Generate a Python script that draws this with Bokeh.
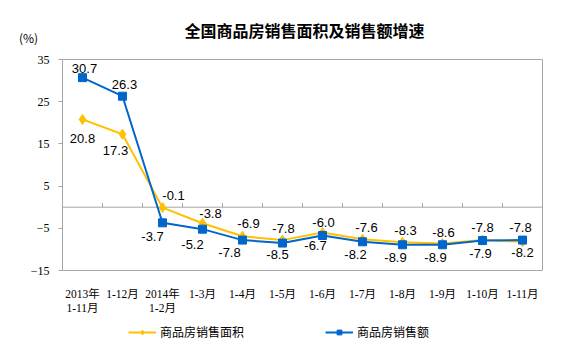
from bokeh.plotting import figure
from bokeh.models import (Range1d, FixedTicker, LinearAxis, Label, Legend,
                          LegendItem, ColumnDataSource)
from bokeh.core.properties import value
from bokeh.embed import file_html
from bokeh.resources import INLINE

# ---- data ----
categories = ["2013年\n1-11月", "1-12月", "2014年\n1-2月", "1-3月", "1-4月", "1-5月",
              "1-6月", "1-7月", "1-8月", "1-9月", "1-10月", "1-11月"]
area_growth = [20.8, 17.3, -0.1, -3.8, -6.9, -7.8, -6.0, -7.6, -8.3, -8.6, -7.8, -8.2]
sales_growth = [30.7, 26.3, -3.7, -5.2, -7.8, -8.5, -6.7, -8.2, -8.9, -8.9, -7.9, -7.8]
y_ticks = [-15, -5, 5, 15, 25, 35]
series_names = ["商品房销售面积", "商品房销售额"]
title_text = "全国商品房销售面积及销售额增速"
unit_text = "(%)"

# ---- label placement (screen px) ----
area_dx = [0, -7, 11, 8, 6, 1, 1, 4, 3, 1, 0, 0]
area_dy = [19, 16, -12, -10, -13, -12, -10, -12, -12, -11, -13, 11]
sales_dx = [2, 2, -10, -10, -13, -5, -7, -7, -7, -7, -2, -2]
sales_dy = [-9, -12, 14, 15, 12, 11, 10, 13, 13, 13, 13, -13]

YELLOW = "#FFC000"
BLUE = "#0066CC"
GRAY = "#A6A6A6"

W, H = 570, 351
# plot area in pixels
PL, PR, PT, PB = 62, 542, 59, 270

n = len(categories)
xs = list(range(n))
x0, x1 = -0.5, n - 0.5
y0, y1 = min(y_ticks), max(y_ticks)
kx = (PR - PL) / (x1 - x0)
ky = (PB - PT) / (y1 - y0)

p = figure(width=W, height=H, output_backend="svg", toolbar_location=None,
           x_range=Range1d(x0 - PL / kx, x1 + (W - PR) / kx),
           y_range=Range1d(y0 - (H - PB) / ky, y1 + PT / ky),
           x_axis_type=None, y_axis_type=None, min_border=0)
p.title = None
p.xgrid.visible = False
p.ygrid.visible = False
p.outline_line_color = None
p.background_fill_color = "white"
p.border_fill_color = "white"

# plot-area border (top, right, bottom)
p.multi_line(xs=[[x0, x1], [x1, x1], [x0, x1]], ys=[[y1, y1], [y0, y1], [y0, y0]],
             line_color=GRAY, line_width=1)
# zero line and category tick marks
p.segment(x0=[x0], y0=[0], x1=[x1], y1=[0], line_color=GRAY, line_width=1)
bounds = [i + 0.5 for i in range(n - 1)]
p.segment(x0=bounds, y0=[0] * len(bounds), x1=bounds, y1=[4 / ky] * len(bounds),
          line_color=GRAY, line_width=1)

# y axis
yax = LinearAxis(ticker=FixedTicker(ticks=y_ticks), fixed_location=x0, bounds=(y0, y1))
yax.axis_line_color = GRAY
yax.major_tick_line_color = GRAY
yax.major_tick_in = 0
yax.major_tick_out = 4
yax.minor_tick_line_color = None
yax.major_label_text_font = "Liberation Serif"
yax.major_label_text_font_size = "12px"
yax.major_label_text_color = "black"
yax.major_label_standoff = 9
p.add_layout(yax, "left")

# x axis (category labels at bottom of plot area)
xax = LinearAxis(ticker=FixedTicker(ticks=xs), fixed_location=y0, bounds=(x0, x1))
xax.major_label_overrides = {i: c for i, c in enumerate(categories)}
xax.axis_line_color = None
xax.major_tick_line_color = None
xax.minor_tick_line_color = None
xax.major_label_text_font = "'Liberation Serif', 'Noto Sans CJK SC'"
xax.major_label_text_font_size = "11.5px"
xax.major_label_text_color = "black"
xax.major_label_standoff = 11
p.add_layout(xax, "below")

# series
l1 = p.line(xs, area_growth, line_color=YELLOW, line_width=2)
s1 = p.scatter(xs, area_growth, marker="diamond", size=10, fill_color=YELLOW, line_color=YELLOW)
l2 = p.line(xs, sales_growth, line_color=BLUE, line_width=2)
s2 = p.scatter(xs, sales_growth, marker="square", size=8, fill_color=BLUE, line_color=BLUE)

# data labels
for vals, dx, dy in ((area_growth, area_dx, area_dy), (sales_growth, sales_dx, sales_dy)):
    src = ColumnDataSource(dict(x=xs, y=vals, t=[f"{v:.1f}" for v in vals], dx=dx, dy=dy))
    p.text(x="x", y="y", text="t", x_offset="dx", y_offset="dy", source=src,
           text_font=value("Liberation Sans"), text_font_size="13px",
           text_align="center", text_baseline="middle", text_color="black")

# title and unit
p.add_layout(Label(x=(x0 + x1) / 2, y=y1, x_offset=2, y_offset=30, text=title_text,
                   text_font="Noto Sans CJK SC", text_font_size="16px", text_font_style="bold",
                   text_align="center", text_baseline="middle", text_color="black"))
p.add_layout(Label(x=x0, y=y1, x_offset=-34, y_offset=22, text=unit_text,
                   text_font="Noto Sans CJK SC", text_font_size="12px",
                   text_align="center", text_baseline="middle", text_color="black"))

# legends
for name, rends, lx in ((series_names[0], [l1, s1], 128), (series_names[1], [l2, s2], 325)):
    lg = Legend(items=[LegendItem(label=name, renderers=rends)], location=(lx, 11),
                orientation="horizontal", border_line_color=None, background_fill_alpha=0,
                padding=0, margin=0, glyph_width=28, glyph_height=12, label_height=12,
                label_standoff=4, label_text_font="Noto Sans CJK SC",
                label_text_font_size="12px", label_text_color="black")
    p.add_layout(lg, "center")

open("out.html", "w").write(file_html(p, INLINE))
